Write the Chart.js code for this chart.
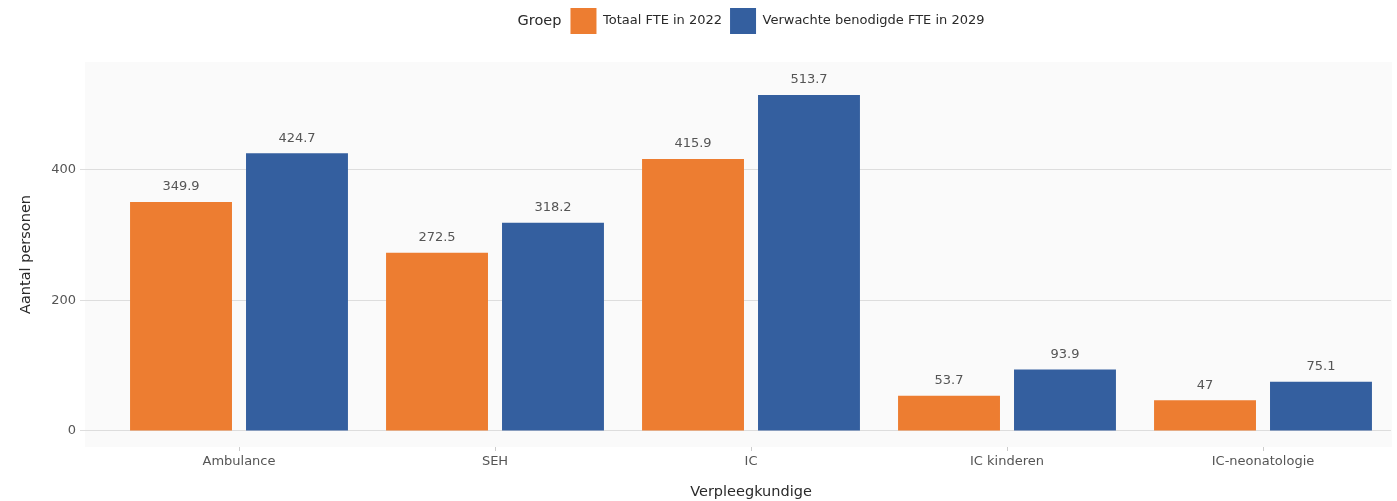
<!DOCTYPE html>
<html>
<head>
  <meta charset="UTF-8">
  <title>FTE verpleegkundigen</title>
  <script src="https://cdn.jsdelivr.net/npm/chart.js"></script>
  <style>
    body { margin: 0; background: #ffffff; }
    #wrap { width: 1397px; height: 501px; }
  </style>
</head>
<body>
  <div id="wrap">
    <canvas id="myChart" width="1397" height="501"></canvas>
  </div>
  <script>
    // categorieën en waarden
    const categories = ["Ambulance", "SEH", "IC", "IC kinderen", "IC-neonatologie"];
    const seriesNames = ["Totaal FTE in 2022", "Verwachte benodigde FTE in 2029"];
    const fte2022 = [349.9, 272.5, 415.9, 53.7, 47];
    const fte2029 = [424.7, 318.2, 513.7, 93.9, 75.1];
    const yTicks = [0, 200, 400];

    const FONT = "'DejaVu Sans', sans-serif";

    // achtergrond van het plotvlak (loopt iets links van de eerste categorie door)
    const plotBackground = {
      id: 'plotBackground',
      beforeDraw(chart) {
        const { ctx, chartArea } = chart;
        ctx.save();
        ctx.fillStyle = '#fafafa';
        ctx.fillRect(85, chartArea.top, chartArea.right + 1 - 85, chartArea.bottom - chartArea.top);
        ctx.restore();
      }
    };

    // waardelabels boven de staven
    const valueLabels = {
      id: 'valueLabels',
      afterDatasetsDraw(chart) {
        const ctx = chart.ctx;
        ctx.save();
        ctx.font = '13px ' + FONT;
        ctx.fillStyle = '#555555';
        ctx.textAlign = 'center';
        ctx.textBaseline = 'middle';
        chart.data.datasets.forEach((ds, i) => {
          chart.getDatasetMeta(i).data.forEach((bar, j) => {
            ctx.fillText(String(ds.data[j]), bar.x, bar.y - 15);
          });
        });
        ctx.restore();
      }
    };

    // legenda verschuiven en "Groep" ervoor zetten
    const legendGroup = {
      id: 'legendGroup',
      afterLayout(chart) {
        const lg = chart.legend;
        lg.left += 82;
        lg.right += 82;
      },
      afterDraw(chart) {
        const boxes = chart.legend.legendHitBoxes;
        if (!boxes || !boxes.length) return;
        const ctx = chart.ctx;
        ctx.save();
        ctx.font = '14.5px ' + FONT;
        ctx.fillStyle = '#2a2a2a';
        ctx.textAlign = 'right';
        ctx.textBaseline = 'middle';
        ctx.fillText('Groep', boxes[0].left - 9, boxes[0].top + boxes[0].height / 2);
        ctx.restore();
      }
    };

    const data = {
      labels: categories,
      datasets: [
        {
          label: seriesNames[0],
          data: fte2022,
          backgroundColor: '#ED7D31',
          categoryPercentage: 0.906,
          barPercentage: 0.879
        },
        {
          label: seriesNames[1],
          data: fte2029,
          backgroundColor: '#345F9F',
          categoryPercentage: 0.906,
          barPercentage: 0.879
        }
      ]
    };

    const config = {
      type: 'bar',
      data: data,
      options: {
        responsive: false,
        animation: false,
        layout: { padding: { top: 0, right: 6, bottom: 0, left: 0 } },
        plugins: {
          legend: {
            position: 'top',
            labels: {
              boxWidth: 26,
              boxHeight: 26,
              padding: 8,
              color: '#2a2a2a',
              font: { family: FONT, size: 13 }
            }
          },
          // lege titel als tussenruimte onder de legenda
          title: {
            display: true,
            text: ' ',
            weight: 500,
            font: { size: 10, lineHeight: 1 },
            padding: { top: 4, bottom: 4 }
          },
          tooltip: { enabled: true }
        },
        scales: {
          x: {
            offset: true,
            border: { display: false },
            grid: {
              offset: false,
              drawOnChartArea: false,
              drawTicks: true,
              tickLength: 4,
              color: '#cccccc'
            },
            ticks: {
              padding: 3,
              color: '#555555',
              font: { family: FONT, size: 13 }
            },
            title: {
              display: true,
              text: 'Verpleegkundige',
              color: '#2a2a2a',
              font: { family: FONT, size: 14.5 },
              padding: { top: 11, bottom: 0 }
            }
          },
          y: {
            min: -24.5,
            max: 564,
            border: { display: false },
            afterBuildTicks(scale) {
              scale.ticks = yTicks.map(v => ({ value: v }));
            },
            afterFit(scale) {
              scale.width = 111;
            },
            grid: {
              color: '#dddddd',
              tickLength: 31
            },
            ticks: {
              padding: 4,
              color: '#555555',
              font: { family: FONT, size: 13 }
            },
            title: {
              display: true,
              text: 'Aantal personen',
              color: '#2a2a2a',
              font: { family: FONT, size: 14.5 },
              padding: { top: 18, bottom: 0 }
            }
          }
        }
      },
      plugins: [plotBackground, valueLabels, legendGroup]
    };

    new Chart(document.getElementById('myChart'), config);
  </script>
</body>
</html>
